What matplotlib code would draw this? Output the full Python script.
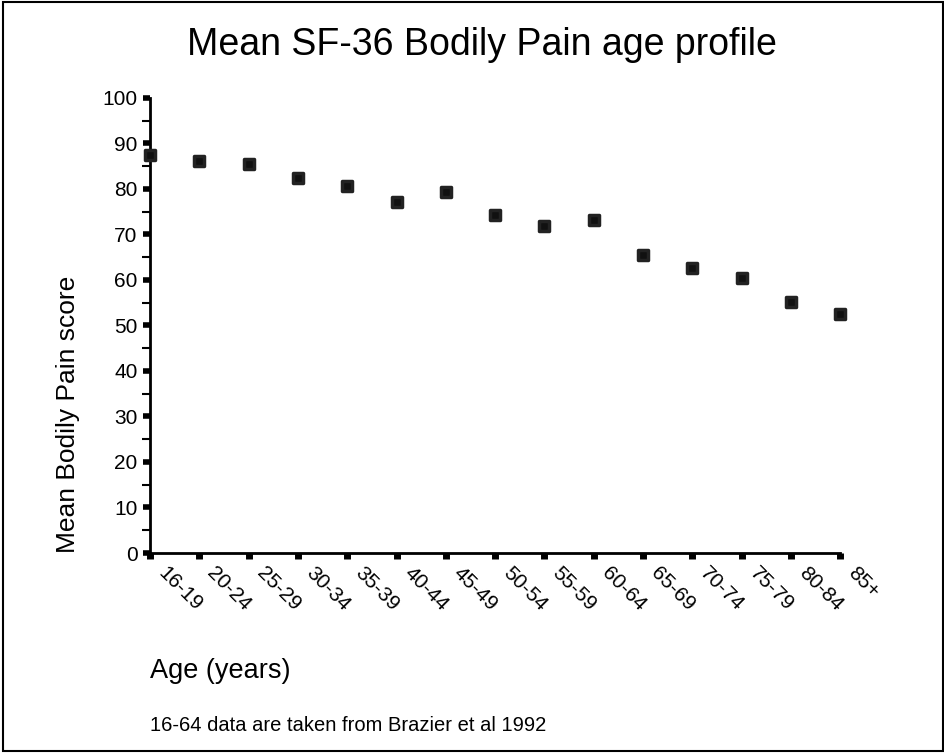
import numpy as np
import matplotlib
matplotlib.use("Agg")
import matplotlib.pyplot as plt
import matplotlib.transforms as mtransforms
from matplotlib.patches import Rectangle
from matplotlib.markers import MarkerStyle

plt.rcParams['font.family'] = ['Liberation Sans', 'DejaVu Sans']

age_groups = ['16-19', '20-24', '25-29', '30-34', '35-39', '40-44', '45-49',
              '50-54', '55-59', '60-64', '65-69', '70-74', '75-79', '80-84', '85+']
mean_pain = [87.5, 86.2, 85.5, 82.4, 80.7, 77.1, 79.3,
             74.3, 71.9, 73.2, 65.5, 62.6, 60.4, 55.2, 52.5]
y_ticks = [0, 10, 20, 30, 40, 50, 60, 70, 80, 90, 100]

fig = plt.figure(figsize=(9.44, 7.53), dpi=100)
ax = fig.add_axes([0.159, 0.2656, 0.731, 0.6043])

x = np.arange(len(age_groups))
ax.plot(x, mean_pain, linestyle='none', marker=MarkerStyle('s', joinstyle='round'),
        markersize=7, markerfacecolor='#111111', markeredgecolor='#222222',
        markeredgewidth=2.5, clip_on=False, zorder=5)

ax.set_xlim(0, len(age_groups) - 1)
ax.set_ylim(0, 100)
ax.set_yticks(y_ticks)
ax.set_yticks(np.arange(5, 100, 10), minor=True)
ax.set_xticks(x)
ax.set_xticklabels(age_groups, rotation=-45, ha='left', va='bottom',
                   rotation_mode='anchor', fontsize=15)
ax.tick_params(axis='y', which='major', length=5, width=4, labelsize=15, pad=4)
ax.tick_params(axis='y', which='minor', length=6, width=1.5)
ax.tick_params(axis='x', which='major', direction='out', length=4, width=5, pad=13)

# nudge rotated labels a little to the right, as in the original
shift = mtransforms.ScaledTranslation(4 / 100, 0, fig.dpi_scale_trans)
for lab in ax.get_xticklabels():
    lab.set_transform(lab.get_transform() + shift)

for s in ['top', 'right']:
    ax.spines[s].set_visible(False)
for s in ['left', 'bottom']:
    ax.spines[s].set_linewidth(2)

fig.text(0.51, 0.94, 'Mean SF-36 Bodily Pain age profile', ha='center', va='center', fontsize=27)
fig.text(0.072, 0.2656, 'Mean Bodily Pain score', rotation=90, ha='center', va='bottom', fontsize=19)
fig.text(0.159, 0.109, 'Age (years)', ha='left', va='center', fontsize=19.5)
fig.text(0.159, 0.037, '16-64 data are taken from Brazier et al 1992', ha='left', va='center', fontsize=14.5)

# outer frame close to the image edges
fig.patches.append(Rectangle((0.0035, 0.003), 0.9955, 0.994, transform=fig.transFigure,
                             fill=False, edgecolor='black', linewidth=1.5))

fig.savefig('out.png', dpi=100)
